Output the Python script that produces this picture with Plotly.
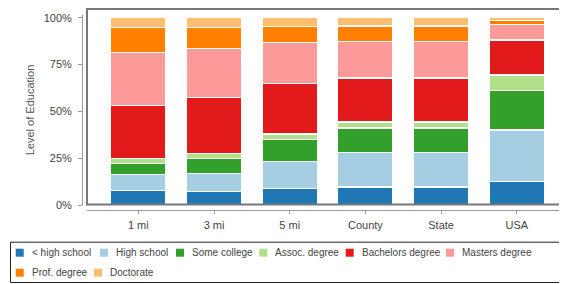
import plotly.graph_objects as go

# ---------------- data ----------------
categories = ["1 mi", "3 mi", "5 mi", "County", "State", "USA"]
levels = ["< high school", "High school", "Some college", "Assoc. degree",
          "Bachelors degree", "Masters degree", "Prof. degree", "Doctorate"]

less_high_school = [7.7, 7.3, 8.9, 9.6, 9.6, 12.5]
high_school      = [8.5, 9.4, 14.4, 18.3, 18.3, 27.5]
some_college     = [6.0, 8.0, 11.6, 13.2, 13.2, 21.0]
assoc_degree     = [2.5, 2.7, 3.0, 3.2, 3.2, 8.4]
bachelors_degree = [28.5, 30.1, 27.0, 23.5, 23.5, 18.7]
masters_degree   = [28.3, 26.0, 21.8, 19.4, 19.4, 8.3]
prof_degree      = [13.2, 11.2, 8.5, 8.4, 8.4, 2.0]
doctorate        = [5.3, 5.3, 4.8, 4.4, 4.4, 1.6]

y_tick_values = [0, 25, 50, 75, 100]
y_tick_labels = ["0%", "25%", "50%", "75%", "100%"]

series = [less_high_school, high_school, some_college, assoc_degree,
          bachelors_degree, masters_degree, prof_degree, doctorate]
colors = ["#1f78b4", "#a6cee3", "#33a02c", "#b2df8a",
          "#e31a1c", "#fb9a99", "#ff7f00", "#fdbf6f"]

# ---------------- geometry helpers ----------------
# The page body has an 8px default margin, so the figure is sized to fill
# the rest of the 567x284 window; helpers take window pixel coordinates.
OFF = 8
WIN_W, WIN_H = 567, 284
FW, FH = WIN_W - OFF, WIN_H - OFF
ML, MT, MB = 82 - OFF, 15 - OFF, 74
PW = FW - ML
PH = FH - MT - MB
FONT = "Liberation Sans, Arial, sans-serif"


def px_x(px):
    return (px - OFF - ML) / PW


def px_y(py):
    return (FH - MB - (py - OFF)) / PH


fig = go.Figure()
for name, vals, color in zip(levels, series, colors):
    fig.add_trace(go.Bar(
        x=categories, y=vals, name=name,
        marker=dict(color=color, line=dict(color="white", width=1.2)),
        width=0.73, showlegend=False,
        hovertemplate="%{x}<br>" + name + ": %{y}%<extra></extra>",
    ))

fig.update_layout(
    barmode="stack",
    width=FW, height=FH,
    margin=dict(l=ML, r=0, t=MT, b=MB, pad=0),
    plot_bgcolor="white", paper_bgcolor="white",
    font=dict(family=FONT, size=11, color="#444"),
    showlegend=False,
    xaxis=dict(
        type="category",
        domain=[px_x(87), 1],
        range=[-0.678, 5.663],
        anchor="free", position=0,
        showline=True, linecolor="#9a9a9a", linewidth=1,
        ticks="outside", ticklen=3, tickcolor="#9a9a9a", tickwidth=1,
        showgrid=False, zeroline=False,
        tickfont=dict(family=FONT, size=11, color="#444"),
        ticklabelstandoff=2,
    ),
    yaxis=dict(
        domain=[px_y(205), 1],
        range=[0, 101.44],
        anchor="free", position=0,
        showline=True, linecolor="#9a9a9a", linewidth=1,
        ticks="outside", ticklen=4, tickcolor="#9a9a9a", tickwidth=1,
        tickvals=y_tick_values, ticktext=y_tick_labels,
        showgrid=False, zeroline=False,
        tickfont=dict(family=FONT, size=11, color="#444"),
        ticklabelstandoff=4,
        title=dict(text="Level of Education", standoff=5,
                   font=dict(family=FONT, size=11, color="#555")),
    ),
)

shapes = [
    # plot frame
    dict(type="rect", xref="paper", yref="paper",
         x0=px_x(87), x1=1.2, y0=px_y(204.5), y1=px_y(9),
         line=dict(color="#777", width=2), layer="above"),
    # legend box
    dict(type="rect", xref="paper", yref="paper",
         x0=px_x(10.5), x1=1.2, y0=px_y(282.5), y1=px_y(242.2),
         line=dict(color="#222", width=1)),
]

annotations = []
legend_slots = [(15.7, 252.7), (100, 252.7), (176, 252.7), (259.3, 252.7),
                (345.7, 252.7), (446, 252.7), (15.7, 272.7), (94, 272.7)]
for (sx, cy), name, color in zip(legend_slots, levels, colors):
    shapes.append(dict(type="rect", xref="paper", yref="paper",
                       x0=px_x(sx), x1=px_x(sx + 8),
                       y0=px_y(cy + 4), y1=px_y(cy - 4),
                       fillcolor=color, line=dict(width=0)))
    annotations.append(dict(xref="paper", yref="paper",
                            x=px_x(sx + 14), y=px_y(cy),
                            xanchor="left", yanchor="middle",
                            text=name, showarrow=False,
                            font=dict(family=FONT, size=10, color="#444")))

fig.update_layout(shapes=shapes, annotations=annotations)

fig.write_html("out.html")
